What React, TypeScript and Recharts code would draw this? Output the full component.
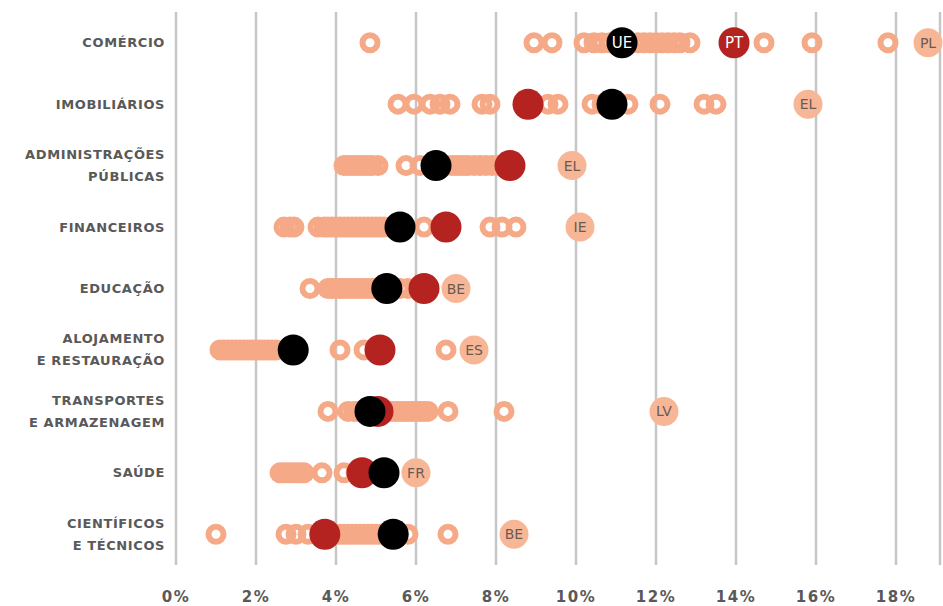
import React from 'react'
import { ScatterChart, Scatter, XAxis, YAxis, CartesianGrid } from 'recharts'

const sectors = [
  ['COMÉRCIO'],
  ['IMOBILIÁRIOS'],
  ['ADMINISTRAÇÕES', 'PÚBLICAS'],
  ['FINANCEIROS'],
  ['EDUCAÇÃO'],
  ['ALOJAMENTO', 'E RESTAURAÇÃO'],
  ['TRANSPORTES', 'E ARMAZENAGEM'],
  ['SAÚDE'],
  ['CIENTÍFICOS', 'E TÉCNICOS'],
]

// valores (%) dos restantes Estados-Membros, por setor
const countryValues = [
  [4.85, 8.95, 9.4, 10.2, 10.45, 10.65, 10.85, 11.55, 11.7, 11.85, 12.0, 12.15, 12.3, 12.45, 12.6, 12.85, 14.7, 15.9, 17.8],
  [5.55, 5.95, 6.35, 6.6, 6.85, 7.65, 7.85, 9.3, 9.55, 10.4, 10.65, 11.3, 12.1, 13.2, 13.5],
  [4.2, 4.3, 4.4, 4.5, 4.6, 4.7, 4.8, 4.9, 5.05, 5.75, 6.1, 6.75, 6.9, 7.0, 7.1, 7.2, 7.3, 7.45, 7.6, 7.75, 7.9, 8.05],
  [2.7, 2.85, 2.95, 3.55, 3.7, 3.8, 3.9, 4.0, 4.1, 4.2, 4.3, 4.4, 4.5, 4.6, 4.7, 4.8, 4.9, 5.0, 5.1, 5.2, 5.35, 6.2, 7.85, 8.15, 8.5],
  [3.35, 3.8, 3.9, 4.0, 4.1, 4.2, 4.3, 4.4, 4.5, 4.6, 4.7, 4.8, 4.9, 5.0, 5.6, 5.8],
  [1.1, 1.2, 1.3, 1.4, 1.5, 1.6, 1.7, 1.8, 1.9, 2.0, 2.1, 2.2, 2.3, 2.4, 2.5, 4.1, 4.7, 6.75],
  [3.8, 4.3, 4.45, 4.55, 4.65, 5.3, 5.4, 5.5, 5.6, 5.7, 5.8, 5.9, 6.0, 6.1, 6.2, 6.3, 6.8, 8.2],
  [2.6, 2.7, 2.8, 2.9, 3.0, 3.1, 3.2, 3.65, 4.2, 4.5],
  [1.0, 2.75, 3.0, 3.3, 3.9, 4.0, 4.1, 4.2, 4.3, 4.4, 4.5, 4.6, 4.7, 4.8, 4.9, 5.0, 5.1, 5.8, 6.8],
]

// país com o valor mais alto em cada setor
const topCountry = ['PL', 'EL', 'EL', 'IE', 'BE', 'ES', 'LV', 'FR', 'BE']
const topValue = [18.8, 15.8, 9.9, 10.1, 7.0, 7.45, 12.2, 6.0, 8.45]

const ptValues = [13.95, 8.8, 8.35, 6.75, 6.2, 5.1, 5.05, 4.65, 3.72]
const ueValues = [11.15, 10.9, 6.5, 5.6, 5.27, 2.93, 4.85, 5.2, 5.43]

const xTicks = [0, 2, 4, 6, 8, 10, 12, 14, 16, 18]

const ringData = countryValues.flatMap((vals, i) => vals.map(v => ({ x: v, y: i })))
const topData = topValue.map((v, i) => ({ x: v, y: i, label: topCountry[i] }))
const ptData = ptValues.map((v, i) => ({ x: v, y: i, label: i === 0 ? 'PT' : '' }))
const ueData = ueValues.map((v, i) => ({ x: v, y: i, label: i === 0 ? 'UE' : '' }))

const FONT = '"DejaVu Sans", Verdana, sans-serif'

const Ring = (props: any) => (
  <circle cx={props.cx} cy={props.cy} r={7.5} fill="none" stroke="#F5A987" strokeWidth={6} />
)

const TopBubble = (props: any) => (
  <g>
    <circle cx={props.cx} cy={props.cy} r={14.5} fill="#F7B796" />
    <text x={props.cx} y={props.cy} dy={5} textAnchor="middle" fontFamily={FONT} fontSize={14} fill="#6b5a52">
      {props.payload.label}
    </text>
  </g>
)

const makeDot = (color: string) => (props: any) => (
  <g>
    <circle cx={props.cx} cy={props.cy} r={15.5} fill={color} />
    {props.payload.label ? (
      <text x={props.cx} y={props.cy} dy={5.5} textAnchor="middle" fontFamily={FONT} fontSize={15} fill="#ffffff">
        {props.payload.label}
      </text>
    ) : null}
  </g>
)

const SectorTick = (props: any) => {
  const lines = sectors[props.payload.value] || []
  const start = -((lines.length - 1) * 22) / 2
  return (
    <text x={props.x} y={props.y} textAnchor="end" fontFamily={FONT} fontWeight="bold" fontSize={13} letterSpacing={0.6} fill="#595959">
      {lines.map((l, k) => (
        <tspan key={k} x={props.x} y={props.y + start + k * 22} dy={4.5}>
          {l}
        </tspan>
      ))}
    </text>
  )
}

const PctTick = (props: any) => (
  <text x={props.x} y={props.y} dy={37} textAnchor="middle" fontFamily={FONT} fontWeight="bold" fontSize={15} letterSpacing={1.5} fill="#595959">
    {props.payload.value + '%'}
  </text>
)

export default function App() {
  return (
    <div style={{ position: 'absolute', left: 0, top: 0, background: '#fff' }}>
      <ScatterChart width={943} height={606} margin={{ top: 12, right: 3, left: 0, bottom: 0 }}>
        <CartesianGrid horizontal={false} stroke="#c6c6c6" strokeWidth={2.5} />
        <XAxis
          type="number"
          dataKey="x"
          domain={[0, 19.1]}
          ticks={xTicks}
          axisLine={false}
          tickLine={false}
          tickSize={0}
          tickMargin={0}
          height={41}
          tick={<PctTick />}
          interval={0}
        />
        <YAxis
          type="number"
          dataKey="y"
          domain={[-0.5, 8.5]}
          ticks={[0, 1, 2, 3, 4, 5, 6, 7, 8]}
          reversed
          width={176}
          axisLine={false}
          tickLine={false}
          tickSize={0}
          tickMargin={11}
          tick={<SectorTick />}
          interval={0}
        />
        <Scatter data={ringData} shape={Ring} isAnimationActive={false} />
        <Scatter data={topData} shape={TopBubble} isAnimationActive={false} />
        <Scatter data={ptData} shape={makeDot('#B42320')} isAnimationActive={false} />
        <Scatter data={ueData} shape={makeDot('#000000')} isAnimationActive={false} />
      </ScatterChart>
    </div>
  )
}
